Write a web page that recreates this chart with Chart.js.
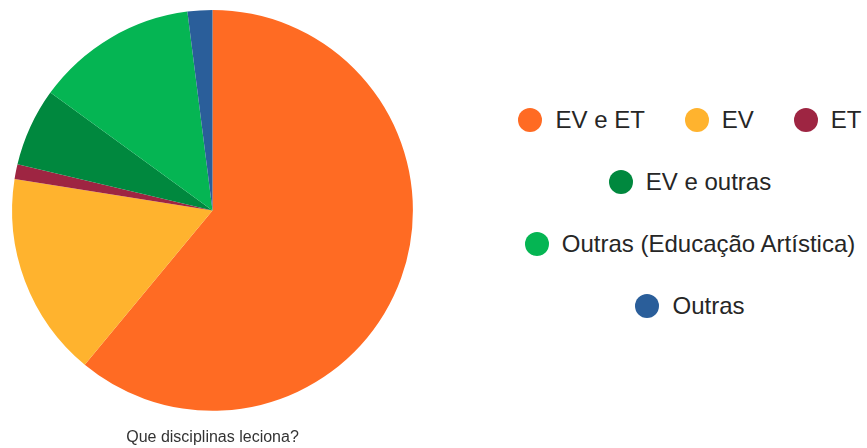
<!DOCTYPE html>
<html>
<head>
<meta charset="utf-8">
<script src="https://cdn.jsdelivr.net/npm/chart.js@4/dist/chart.umd.min.js"></script>
<style>
  html, body { margin: 0; padding: 0; background: #fff; }
  body { width: 867px; height: 448px; position: relative; overflow: hidden; font-family: "Liberation Sans", Arial, sans-serif; }
  #pieBox { position: absolute; left: 0; top: 0; width: 428px; height: 448px; }
  #legend {
    position: absolute; left: 510px; top: -11px; width: 360px; height: 448px;
    display: flex; flex-wrap: wrap; justify-content: center; align-content: center;
    column-gap: 40px; row-gap: 34px;
  }
  .item { display: flex; align-items: center; height: 28px; font-size: 24px; color: #262626; white-space: nowrap; }
  .dot { width: 24px; height: 24px; border-radius: 50%; margin-right: 13px; flex: none; }
</style>
</head>
<body>
<div id="pieBox"><canvas id="pie"></canvas></div>
<div id="legend"></div>
<script>
// Respostas: "Que disciplinas leciona?" (percentagens)
const labels = ["EV e ET", "EV", "ET", "EV e outras", "Outras (Educação Artística)", "Outras"];
const values = [61, 16.5, 1.2, 6.3, 13, 2];
const colors = ["#FF6B23", "#FFB32E", "#9E2542", "#00883E", "#05B553", "#2A5E9A"];
const chartTitle = "Que disciplinas leciona?";

const chart = new Chart(document.getElementById("pie"), {
  type: "pie",
  data: {
    labels,
    datasets: [{ data: values, backgroundColor: colors, borderWidth: 0 }]
  },
  options: {
    responsive: true,
    maintainAspectRatio: false,
    animation: false,
    layout: { padding: { top: 10, bottom: 0, left: 0, right: 3 } },
    plugins: {
      legend: { display: false },
      tooltip: { enabled: false },
      title: {
        display: true,
        position: "bottom",
        text: chartTitle,
        color: "#333",
        font: { family: "Liberation Sans", size: 16, weight: "normal" },
        padding: { top: 17, bottom: 1 }
      }
    }
  }
});

// HTML legend built from the chart's own legend items
const legendEl = document.getElementById("legend");
chart.options.plugins.legend.labels.generateLabels(chart).forEach(it => {
  const div = document.createElement("div");
  div.className = "item";
  const dot = document.createElement("span");
  dot.className = "dot";
  dot.style.background = it.fillStyle;
  const txt = document.createElement("span");
  txt.textContent = it.text;
  div.appendChild(dot);
  div.appendChild(txt);
  legendEl.appendChild(div);
});
</script>
</body>
</html>
